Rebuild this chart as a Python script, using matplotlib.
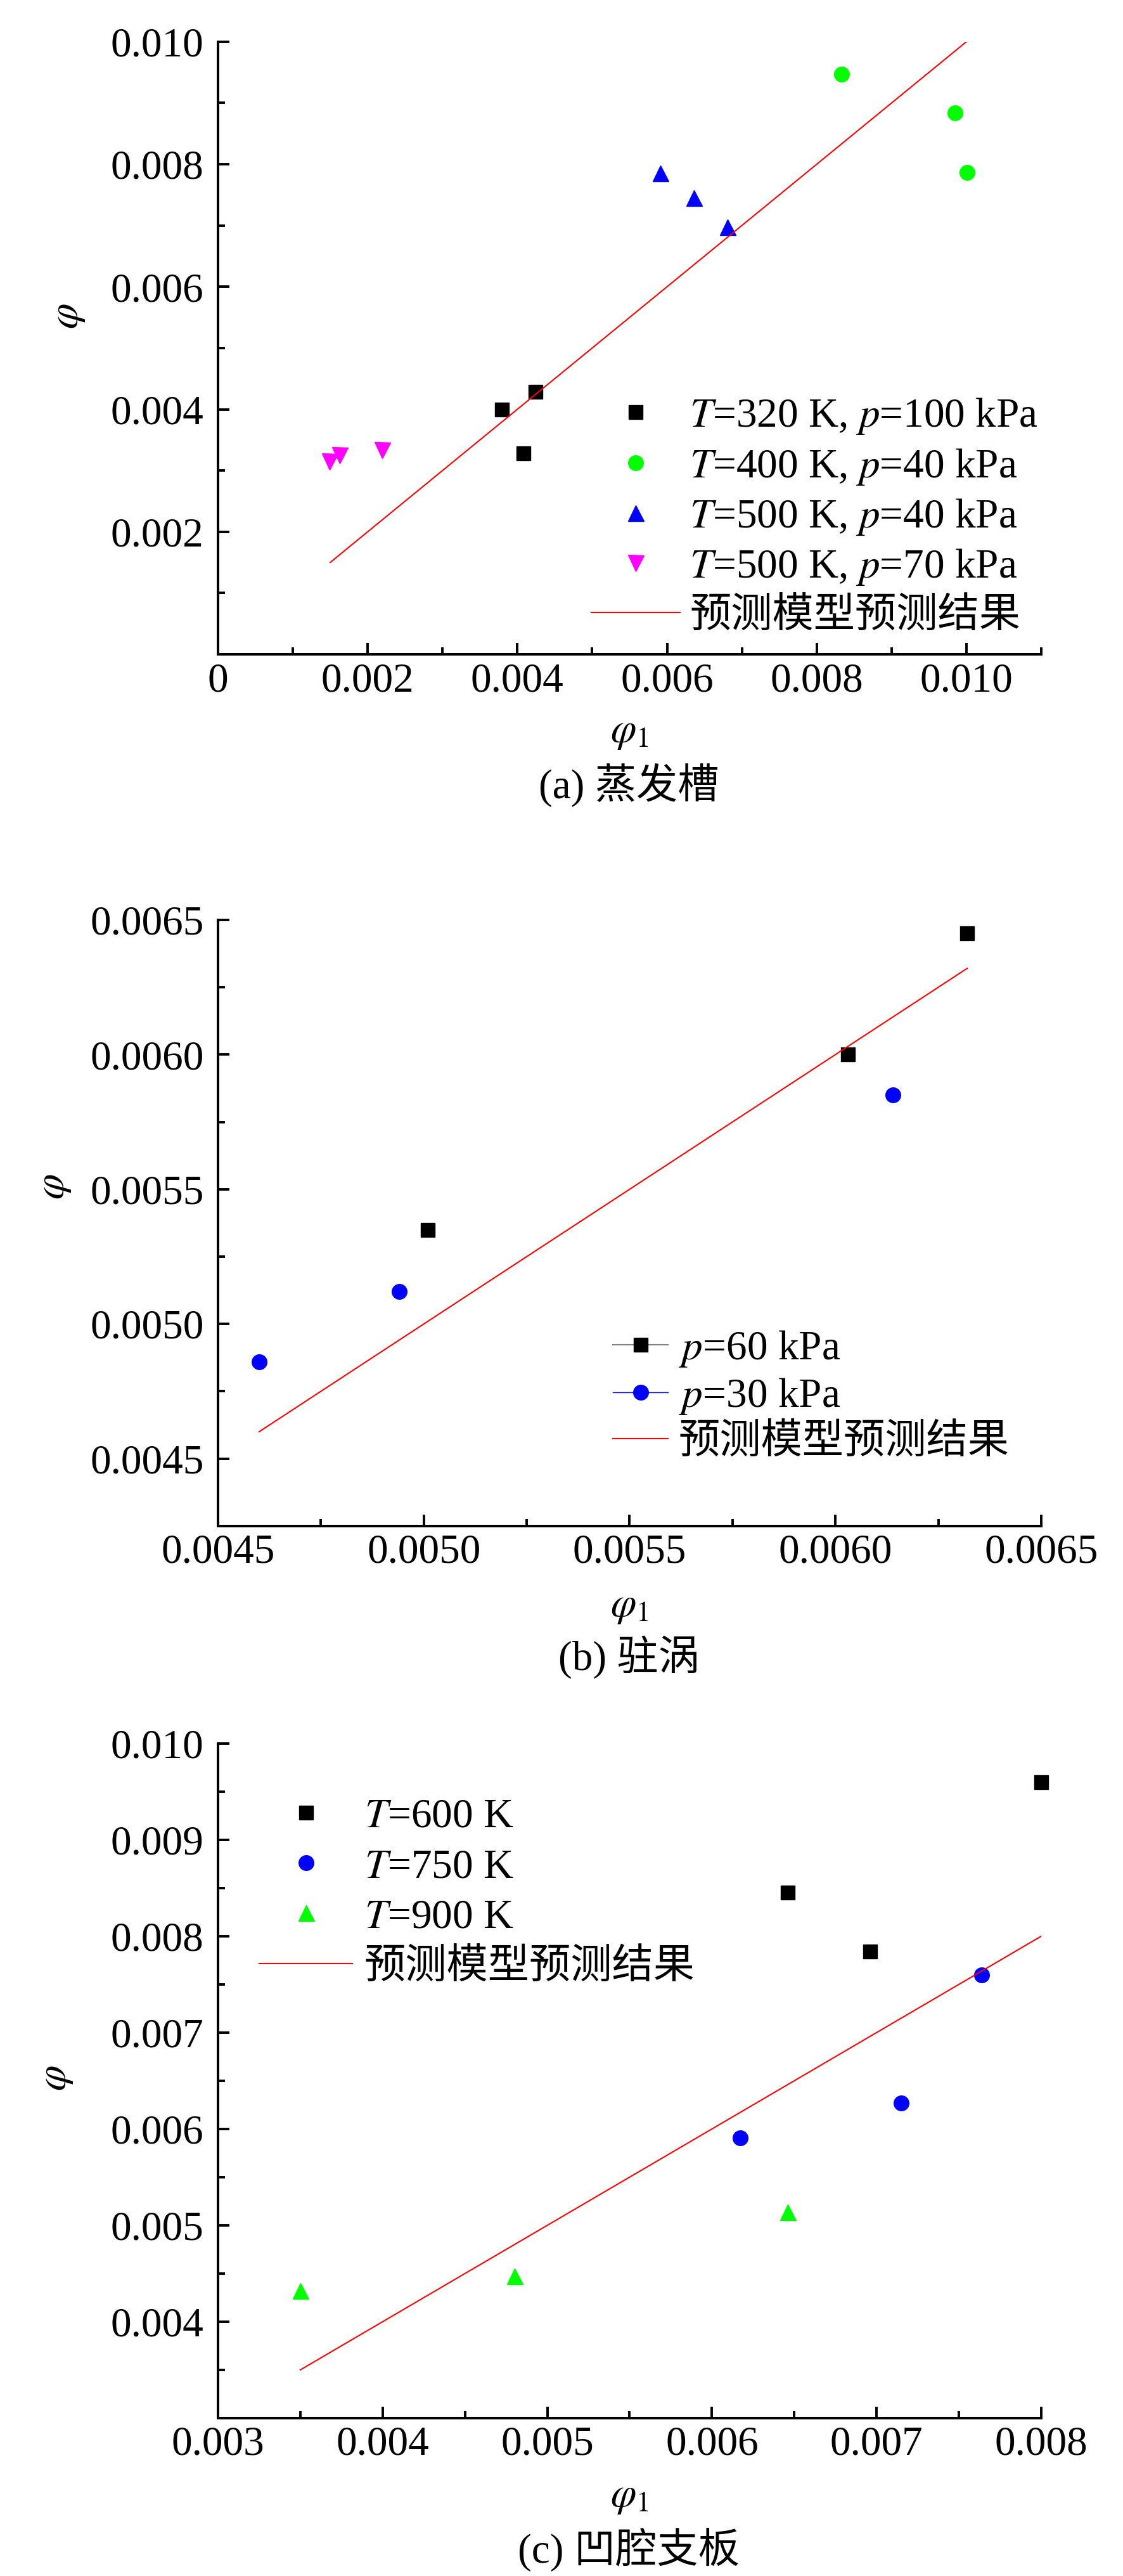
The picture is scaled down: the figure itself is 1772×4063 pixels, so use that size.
import matplotlib
matplotlib.use('Agg')
import matplotlib.pyplot as plt
from matplotlib.lines import Line2D
from matplotlib.ticker import FixedLocator, FixedFormatter

plt.rcParams['font.family'] = ['Liberation Serif', 'Noto Sans CJK SC']
plt.rcParams['mathtext.fontset'] = 'stix'

# ---------------- data ----------------
# (a) 蒸发槽
a_320_x = [0.00379, 0.00424, 0.00408]
a_320_y = [0.00399, 0.00429, 0.00328]
a_400_x = [0.00833, 0.00985, 0.01001]
a_400_y = [0.00947, 0.00884, 0.00787]
a_500_40_x = [0.00591, 0.00636, 0.00681]
a_500_40_y = [0.00786, 0.00745, 0.00698]
a_500_70_x = [0.00149, 0.00163, 0.00219]
a_500_70_y = [0.00315, 0.00325, 0.00333]
a_pred_x = [0.0015, 0.0100]
a_pred_y = [0.0015, 0.0100]
a_labels = [r'$T$=320 K, $p$=100 kPa', r'$T$=400 K, $p$=40 kPa',
            r'$T$=500 K, $p$=40 kPa', r'$T$=500 K, $p$=70 kPa', '预测模型预测结果']
a_xticks = [0, 0.002, 0.004, 0.006, 0.008, 0.010]
a_xticklabels = ['0', '0.002', '0.004', '0.006', '0.008', '0.010']
a_xminor = [0.001, 0.003, 0.005, 0.007, 0.009, 0.011]
a_yticks = [0.002, 0.004, 0.006, 0.008, 0.010]
a_yticklabels = ['0.002', '0.004', '0.006', '0.008', '0.010']
a_yminor = [0.001, 0.003, 0.005, 0.007, 0.009]

# (b) 驻涡
b_60_x = [0.00501, 0.00603, 0.00632]
b_60_y = [0.00535, 0.00600, 0.00645]
b_30_x = [0.00460, 0.00494, 0.00614]
b_30_y = [0.00486, 0.00512, 0.00585]
b_pred_x = [0.00460, 0.00632]
b_pred_y = [0.00460, 0.00632]
b_labels = [r'$p$=60 kPa', r'$p$=30 kPa', '预测模型预测结果']
b_ticks = [0.0045, 0.0050, 0.0055, 0.0060, 0.0065]
b_ticklabels = ['0.0045', '0.0050', '0.0055', '0.0060', '0.0065']
b_minor = [0.00425, 0.00475, 0.00525, 0.00575, 0.00625]

# (c) 凹腔支板
c_600_x = [0.00646, 0.00696, 0.00800]
c_600_y = [0.00845, 0.00784, 0.00960]
c_750_x = [0.00617, 0.00715, 0.00764]
c_750_y = [0.00591, 0.00627, 0.00760]
c_900_x = [0.00350, 0.00480, 0.00646]
c_900_y = [0.00432, 0.00447, 0.00514]
c_pred_x = [0.0035, 0.0080]
c_pred_y = [0.0035, 0.0080]
c_labels = [r'$T$=600 K', r'$T$=750 K', r'$T$=900 K', '预测模型预测结果']
c_xticks = [0.003, 0.004, 0.005, 0.006, 0.007, 0.008]
c_xticklabels = ['0.003', '0.004', '0.005', '0.006', '0.007', '0.008']
c_xminor = [0.0035, 0.0045, 0.0055, 0.0065, 0.0075]
c_yticks = [0.004, 0.005, 0.006, 0.007, 0.008, 0.009, 0.010]
c_yticklabels = ['0.004', '0.005', '0.006', '0.007', '0.008', '0.009', '0.010']
c_yminor = [0.0035, 0.0045, 0.0055, 0.0065, 0.0075, 0.0085, 0.0095]

captions = ['(a) 蒸发槽', '(b) 驻涡', '(c) 凹腔支板']

# ---------------- style ----------------
FS = 47
BLACK, GREEN, BLUE, MAGENTA, RED = '#000000', '#00ff00', '#0000ff', '#ff00ff', '#ff0000'
MS_SQ, MS_CI, MS_TR = 16, 17, 18

fig = plt.figure(figsize=(17.72, 40.63), dpi=100)
L, W = 0.1941, 0.7331
ax_a = fig.add_axes([L, 0.7460, W, 0.9838 - 0.7460])
ax_b = fig.add_axes([L, 0.4076, W, 0.6429 - 0.4076])
ax_c = fig.add_axes([L, 0.0613, W, 0.3232 - 0.0613])


def style(ax, xt, xtl, xm, yt, ytl, ym, xlim, ylim, ylab_x, ylab_y, xlab_y):
    ax.set_xlim(*xlim)
    ax.set_ylim(*ylim)
    for s in ['top', 'right']:
        ax.spines[s].set_visible(False)
    for s in ['left', 'bottom']:
        ax.spines[s].set_linewidth(2.9)
    ax.xaxis.set_major_locator(FixedLocator(xt))
    ax.xaxis.set_major_formatter(FixedFormatter(xtl))
    ax.xaxis.set_minor_locator(FixedLocator(xm))
    ax.yaxis.set_major_locator(FixedLocator(yt))
    ax.yaxis.set_major_formatter(FixedFormatter(ytl))
    ax.yaxis.set_minor_locator(FixedLocator(ym))
    ax.tick_params(which='both', direction='in', width=2.8, top=False, right=False,
                   labelsize=FS)
    ax.tick_params(which='major', length=13)
    ax.tick_params(which='minor', length=8)
    ax.tick_params(axis='x', which='major', pad=9)
    ax.tick_params(axis='y', which='major', pad=16)
    ax.set_ylabel(r'$\varphi$', fontsize=FS)
    ax.set_xlabel(r'$\varphi_1$', fontsize=FS)
    ax.yaxis.set_label_coords(ylab_x, ylab_y)
    ax.yaxis.label.set_verticalalignment('center')
    ax.xaxis.set_label_coords(0.5, xlab_y)
    ax.xaxis.label.set_verticalalignment('center')


# ---- (a)
h1, = ax_a.plot(a_320_x, a_320_y, ls='none', marker='s', ms=MS_SQ, color=BLACK, mec=BLACK, clip_on=False)
h2, = ax_a.plot(a_400_x, a_400_y, ls='none', marker='o', ms=MS_CI, color=GREEN, mec=GREEN, clip_on=False)
h3, = ax_a.plot(a_500_40_x, a_500_40_y, ls='none', marker='^', ms=MS_TR, color=BLUE, mec=BLUE, clip_on=False)
h4, = ax_a.plot(a_500_70_x, a_500_70_y, ls='none', marker='v', ms=MS_TR, color=MAGENTA, mec=MAGENTA, clip_on=False)
h5, = ax_a.plot(a_pred_x, a_pred_y, color=RED, lw=1.5)
style(ax_a, a_xticks, a_xticklabels, a_xminor, a_yticks, a_yticklabels, a_yminor,
      (0, 0.011), (0, 0.010), -0.182, 0.552, -0.128)
ax_a.legend([h1, h2, h3, h4, h5], a_labels, loc='upper left', bbox_to_anchor=(0.4534, 0.421),
            frameon=False, fontsize=FS, borderpad=0, borderaxespad=0, handlelength=2.15,
            handletextpad=0.23, labelspacing=0.25)

# ---- (b)
ax_b.plot(b_60_x, b_60_y, ls='none', marker='s', ms=MS_SQ, color=BLACK, mec=BLACK, clip_on=False)
ax_b.plot(b_30_x, b_30_y, ls='none', marker='o', ms=MS_CI, color=BLUE, mec=BLUE, clip_on=False)
hb3, = ax_b.plot(b_pred_x, b_pred_y, color=RED, lw=1.5)
hb1 = Line2D([], [], color='#808080', lw=1.5, marker='s', ms=MS_SQ, mfc=BLACK, mec=BLACK)
hb2 = Line2D([], [], color=BLUE, lw=1.0, marker='o', ms=MS_CI, mfc=BLUE, mec=BLUE)
style(ax_b, b_ticks, b_ticklabels, b_minor, b_ticks, b_ticklabels, b_minor,
      (0.0045, 0.0065), (0.00425, 0.0065), -0.199, 0.56, -0.133)
ax_b.legend([hb1, hb2, hb3], b_labels, loc='upper left', bbox_to_anchor=(0.480, 0.325),
            frameon=False, fontsize=FS, borderpad=0, borderaxespad=0, handlelength=1.32,
            handletextpad=0.26, labelspacing=0.18)

# ---- (c)
hc1, = ax_c.plot(c_600_x, c_600_y, ls='none', marker='s', ms=MS_SQ, color=BLACK, mec=BLACK, clip_on=False)
hc2, = ax_c.plot(c_750_x, c_750_y, ls='none', marker='o', ms=MS_CI, color=BLUE, mec=BLUE, clip_on=False)
hc3, = ax_c.plot(c_900_x, c_900_y, ls='none', marker='^', ms=MS_TR, color=GREEN, mec=GREEN, clip_on=False)
hc4, = ax_c.plot(c_pred_x, c_pred_y, color=RED, lw=1.5)
style(ax_c, c_xticks, c_xticklabels, c_xminor, c_yticks, c_yticklabels, c_yminor,
      (0.003, 0.008), (0.003, 0.010), -0.197, 0.504, -0.1165)
ax_c.legend([hc1, hc2, hc3, hc4], c_labels, loc='upper left', bbox_to_anchor=(0.050, 0.919),
            frameon=False, fontsize=FS, borderpad=0, borderaxespad=0, handlelength=2.26,
            handletextpad=0.28, labelspacing=0.3)

# ---- captions
for txt, y in zip(captions, [0.6953, 0.3566, 0.0103]):
    fig.text(0.56, y, txt, ha='center', va='center', fontsize=FS,
             family=['Liberation Serif', 'Noto Sans CJK SC'])

fig.savefig('out.png', dpi=100)
